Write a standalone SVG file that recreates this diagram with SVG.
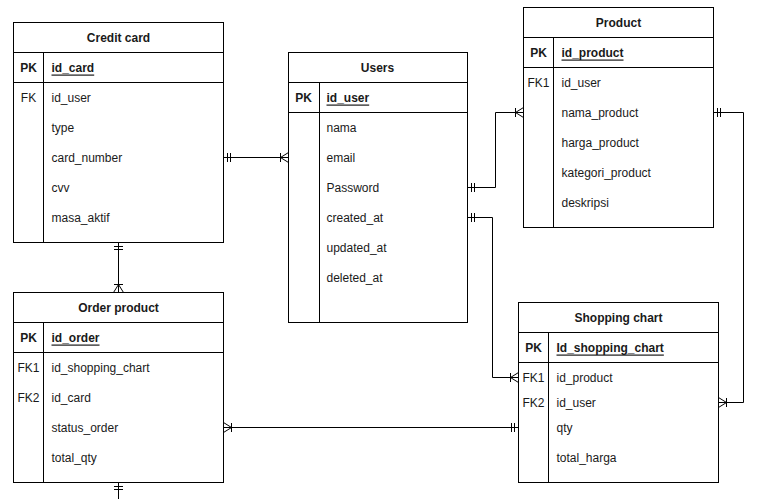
<svg xmlns="http://www.w3.org/2000/svg" width="762" height="499" viewBox="0 0 762 499">
<style>
.box{fill:#fff;stroke:#000;stroke-width:1}
.ln{stroke:#000;stroke-width:1;fill:none}
text{font-family:"Liberation Sans",Arial,sans-serif;font-size:12px;fill:#1a1a1a;dominant-baseline:central}
.t{font-weight:bold;text-anchor:middle}
.k{text-anchor:middle}
.pk{font-weight:bold}
.pf{font-weight:bold;text-decoration:underline}
.c{stroke:#000;stroke-width:1;fill:none;marker-start:url(#one);marker-end:url(#many)}
</style>
<defs>
<marker id="one" markerUnits="userSpaceOnUse" orient="auto-start-reverse" markerWidth="20" markerHeight="20" refX="0" refY="0" overflow="visible"><path d="M-4,-4.5V4.5M-7,-4.5V4.5" fill="none" stroke="#000"/></marker>
<marker id="many" markerUnits="userSpaceOnUse" orient="auto-start-reverse" markerWidth="20" markerHeight="20" refX="0" refY="0" overflow="visible"><path d="M-8,-4.5V4.5M0,-5L-8,0L0,5M-8,0H0" fill="none" stroke="#000"/></marker>
</defs>
<rect width="762" height="499" fill="#fff"/>
<g transform="translate(0.5,0.5)">
<g id="credit-card">
<rect class="box" x="13" y="22" width="210" height="220"/>
<path class="ln" d="M13,52H223M13,82H223M43,52V242"/>
<text class="t" x="118" y="37">Credit card</text>
<text class="k pk" x="28" y="67">PK</text>
<text class="pf" x="51" y="67">id_card</text>
<text class="k" x="28" y="97">FK</text>
<text x="51" y="97">id_user</text>
<text x="51" y="127">type</text>
<text x="51" y="157">card_number</text>
<text x="51" y="187">cvv</text>
<text x="51" y="217">masa_aktif</text>
</g>
<g id="users">
<rect class="box" x="288" y="52" width="179" height="270"/>
<path class="ln" d="M288,82H467M288,112H467M319,82V322"/>
<text class="t" x="377" y="67">Users</text>
<text class="k pk" x="303" y="97">PK</text>
<text class="pf" x="326" y="97">id_user</text>
<text x="326" y="127">nama</text>
<text x="326" y="157">email</text>
<text x="326" y="187">Password</text>
<text x="326" y="217">created_at</text>
<text x="326" y="247">updated_at</text>
<text x="326" y="277">deleted_at</text>
</g>
<g id="product">
<rect class="box" x="523" y="7" width="190" height="220"/>
<path class="ln" d="M523,37H713M523,67H713M553,37V227"/>
<text class="t" x="618" y="22">Product</text>
<text class="k pk" x="538" y="52">PK</text>
<text class="pf" x="561" y="52">id_product</text>
<text class="k" x="538" y="82">FK1</text>
<text x="561" y="82">id_user</text>
<text x="561" y="112">nama_product</text>
<text x="561" y="142">harga_product</text>
<text x="561" y="172">kategori_product</text>
<text x="561" y="202">deskripsi</text>
</g>
<g id="order-product">
<rect class="box" x="13" y="292" width="210" height="190"/>
<path class="ln" d="M13,322H223M13,352H223M43,322V482"/>
<text class="t" x="118" y="307">Order product</text>
<text class="k pk" x="28" y="337">PK</text>
<text class="pf" x="51" y="337">id_order</text>
<text class="k" x="28" y="367">FK1</text>
<text x="51" y="367">id_shopping_chart</text>
<text class="k" x="28" y="397">FK2</text>
<text x="51" y="397">id_card</text>
<text x="51" y="427">status_order</text>
<text x="51" y="457">total_qty</text>
</g>
<g id="shopping-chart">
<rect class="box" x="518" y="302" width="200" height="180"/>
<path class="ln" d="M518,332H718M518,362H718M548,332V482"/>
<text class="t" x="618" y="317">Shopping chart</text>
<text class="k pk" x="533" y="347">PK</text>
<text class="pf" x="556" y="347">Id_shopping_chart</text>
<text class="k" x="533" y="377">FK1</text>
<text x="556" y="377">id_product</text>
<text class="k" x="533" y="402">FK2</text>
<text x="556" y="402">id_user</text>
<text x="556" y="427">qty</text>
<text x="556" y="457">total_harga</text>
</g>
<g id="connectors">
<path class="c" d="M223,157H288"/>
<path class="c" d="M467,187H495V112H523"/>
<path class="c" d="M467,217H492V377H518"/>
<path class="c" d="M713,112H743V402H718"/>
<path class="c" d="M118,242V292"/>
<path class="c" d="M518,427H223"/>
<path class="ln" d="M118,482V499" marker-start="url(#one)"/>
</g>
</g>
</svg>
